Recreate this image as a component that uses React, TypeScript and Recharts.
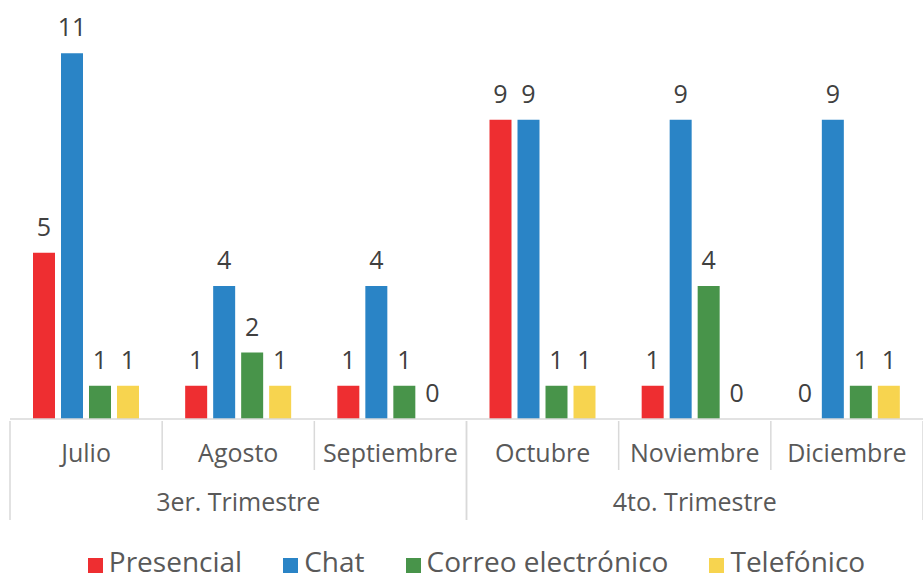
import React from 'react';
import { BarChart, Bar, XAxis, YAxis, Legend, LabelList } from 'recharts';

const months = ['Julio', 'Agosto', 'Septiembre', 'Octubre', 'Noviembre', 'Diciembre'];
const quarters = ['3er. Trimestre', '4to. Trimestre'];
const monthQuarter = [0, 0, 0, 1, 1, 1];
const presencial = [5, 1, 1, 9, 1, 0];
const chat = [11, 4, 4, 9, 9, 9];
const correo = [1, 2, 1, 1, 4, 1];
const telefonico = [1, 1, 0, 1, 0, 1];

const seriesNames = ['Presencial', 'Chat', 'Correo electrónico', 'Telefónico'];
const seriesKeys = ['presencial', 'chat', 'correo', 'telefonico'];
const colors = ['#EE2E31', '#2A84C6', '#48944A', '#F7D44F'];

const data = months.map((m, i) => ({
  month: m,
  quarter: quarters[monthQuarter[i]],
  presencial: presencial[i],
  chat: chat[i],
  correo: correo[i],
  telefonico: telefonico[i],
}));

const W = 923;
const H = 581;
const M = { top: 20, right: 0, left: 10, bottom: 0 };
const FONT = '"Open Sans", sans-serif';
const TEXT = '#595959';
const GRID = '#D9D9D9';
const band = (W - M.left - M.right) / months.length;

const MultiTick = (props: any) => {
  const { x, y, payload } = props;
  const i = payload.index;
  const left = x - band / 2;
  const right = x + band / 2;
  const q = monthQuarter[i];
  const firstOfQ = i === 0 || monthQuarter[i - 1] !== q;
  const lastOfQ = i === months.length - 1 || monthQuarter[i + 1] !== q;
  const qIdx = months.map((_, k) => k).filter((k) => monthQuarter[k] === q);
  const mid = qIdx[Math.floor(qIdx.length / 2)];
  return (
    <g>
      <line x1={left} x2={left} y1={y} y2={y + (firstOfQ ? 99 : 49)} stroke={GRID} strokeWidth={1.5} />
      {lastOfQ && (
        <line x1={right} x2={right} y1={y} y2={y + 99} stroke={GRID} strokeWidth={1.5} />
      )}
      <text x={x} y={y + 41} textAnchor="middle" fill={TEXT} fontSize={25} fontFamily={FONT}>
        {payload.value}
      </text>
      {i === mid && (
        <text x={x} y={y + 90} textAnchor="middle" fill={TEXT} fontSize={25} fontFamily={FONT}>
          {quarters[q]}
        </text>
      )}
    </g>
  );
};

const LegendContent = () => (
  <div
    style={{
      display: 'flex',
      justifyContent: 'center',
      alignItems: 'flex-end',
      gap: 41,
      paddingTop: 4,
      paddingLeft: 20,
      fontFamily: FONT,
      fontSize: 28,
      lineHeight: '28px',
      color: TEXT,
    }}
  >
    {seriesNames.map((n, i) => (
      <div key={n} style={{ display: 'flex', alignItems: 'flex-end' }}>
        <span
          style={{
            display: 'inline-block',
            width: 15,
            height: 15,
            background: colors[i],
            marginRight: 6,
            marginBottom: 2,
          }}
        />
        <span>{n}</span>
      </div>
    ))}
  </div>
);

const zeroMin = (v: any) => (v === 0 ? 0.01 : 0);

export default function App() {
  return (
    <div style={{ position: 'absolute', left: 0, top: 0, background: '#fff' }}>
      <BarChart width={W} height={H} data={data} margin={M} barSize={22} barGap={6}>
        <XAxis
          dataKey="month"
          height={124}
          tickSize={0}
          tickLine={false}
          axisLine={{ stroke: GRID, strokeWidth: 1.5 }}
          tick={<MultiTick />}
          interval={0}
        />
        <YAxis hide domain={[0, 12]} />
        <Legend verticalAlign="bottom" height={38} content={<LegendContent />} />
        {seriesKeys.map((k, i) => (
          <Bar
            key={k}
            dataKey={k}
            name={seriesNames[i]}
            fill={colors[i]}
            minPointSize={zeroMin}
            isAnimationActive={false}
          >
            <LabelList
              dataKey={k}
              position="top"
              offset={17}
              fill="#404040"
              fontSize={25}
              fontFamily={FONT}
            />
          </Bar>
        ))}
      </BarChart>
    </div>
  );
}
